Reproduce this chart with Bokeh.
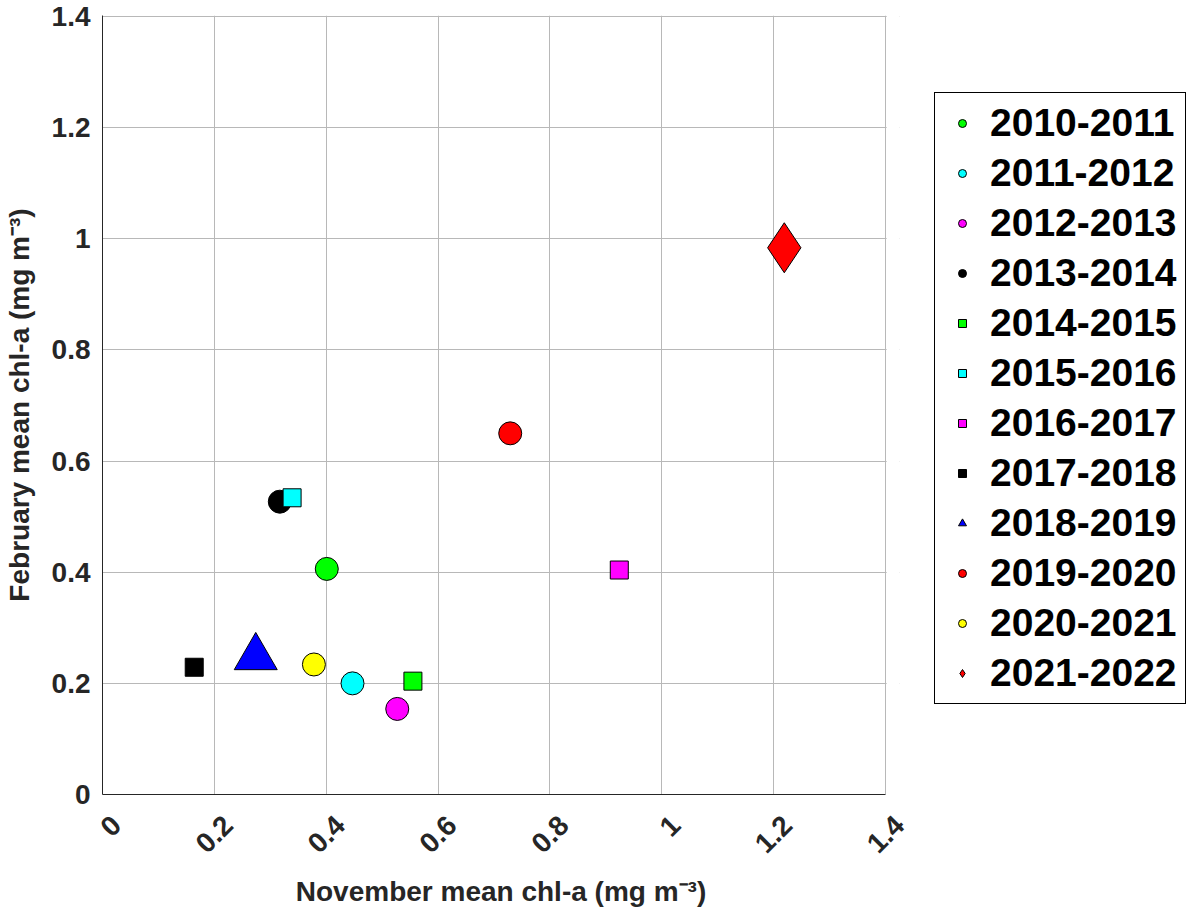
from math import pi
from bokeh.plotting import figure
from bokeh.layouts import row
from bokeh.models import (Range1d, FixedTicker, Legend, LegendItem, LinearAxis,
                          BoxAnnotation)
from bokeh.embed import file_html
from bokeh.resources import INLINE

# ---------------- data ----------------
seasons = ["2010-2011", "2011-2012", "2012-2013", "2013-2014", "2014-2015", "2015-2016",
           "2016-2017", "2017-2018", "2018-2019", "2019-2020", "2020-2021", "2021-2022"]
nov_chla = [0.401, 0.447, 0.527, 0.317, 0.555, 0.339, 0.924, 0.164, 0.274, 0.729, 0.378, 1.219]
feb_chla = [0.406, 0.200, 0.154, 0.527, 0.204, 0.534, 0.404, 0.229, 0.247, 0.650, 0.234, 0.984]

xticks = [0, 0.2, 0.4, 0.6, 0.8, 1, 1.2, 1.4]
xtick_labels = ["0", "0.2", "0.4", "0.6", "0.8", "1", "1.2", "1.4"]
yticks = [0, 0.2, 0.4, 0.6, 0.8, 1, 1.2, 1.4]
ytick_labels = ["0", "0.2", "0.4", "0.6", "0.8", "1", "1.2", "1.4"]

# ---------------- styles ----------------
markers = ["circle", "circle", "circle", "circle", "square", "square", "square", "square",
           "triangle", "circle", "circle", "diamond"]
fills = ["#00ff00", "#00ffff", "#ff00ff", "#000000", "#00ff00", "#00ffff", "#ff00ff", "#000000",
         "#0000ff", "#ff0000", "#ffff00", "#ff0000"]
sizes = [23, 23, 23, 23, 18, 18, 18, 18, 43, 23, 23, 50]

FONT = "Liberation Sans"
TXT = "#262626"
GRID = "#b8b8b8"

XMAX = xticks[-1]
YMAX = yticks[-1]
PAD_R = 0.025     # extra room at the right of the frame for the rotated labels
SHIFT = 0.0246    # shifts rotated x tick labels so they are centred on their ticks

p = figure(width=912, height=912,
           x_range=Range1d(0, XMAX + PAD_R), y_range=Range1d(0, YMAX + 0.002),
           output_backend="svg", toolbar_location=None,
           min_border_left=101, min_border_right=13, min_border_top=15, min_border_bottom=118)
p.outline_line_color = None
p.background_fill_color = "white"
p.border_fill_color = "white"

# grid
p.xgrid.ticker = FixedTicker(ticks=xticks)
p.ygrid.ticker = FixedTicker(ticks=yticks)
p.grid.grid_line_color = GRID
p.grid.grid_line_width = 1

# main x axis: just the line from 0 to 1.4
main_x = p.xaxis[0]
main_x.ticker = FixedTicker(ticks=[])
main_x.bounds = (0, XMAX)
main_x.axis_line_color = TXT
main_x.major_tick_in = 0
main_x.major_tick_out = 0
main_x.minor_tick_line_color = None
main_x.major_label_standoff = 0

# label axis (rotated tick labels + axis title)
p.extra_x_ranges = {"lbl": Range1d(-SHIFT, XMAX + PAD_R - SHIFT)}
lbl_x = LinearAxis(x_range_name="lbl", ticker=FixedTicker(ticks=xticks),
                   major_label_overrides={t: l for t, l in zip(xticks, xtick_labels)},
                   major_label_orientation=pi / 4,
                   axis_line_color=None, major_tick_line_color=None,
                   minor_tick_line_color=None, major_tick_in=0, major_tick_out=0,
                   major_label_standoff=26,
                   major_label_text_font=FONT, major_label_text_font_size="28px",
                   major_label_text_font_style="bold", major_label_text_color=TXT,
                   axis_label="November mean chl-a (mg m\u207b\u00b3)",
                   axis_label_text_font=FONT, axis_label_text_font_size="28px",
                   axis_label_text_font_style="bold", axis_label_text_color=TXT,
                   axis_label_standoff=12)
p.add_layout(lbl_x, "below")

# hide the part of the horizontal grid lines right of x = 1.4
p.add_layout(BoxAnnotation(left=XMAX + 0.002, fill_color="white", fill_alpha=1,
                           line_color=None))

# y axis
p.yaxis.ticker = FixedTicker(ticks=yticks)
p.yaxis.major_label_overrides = {t: l for t, l in zip(yticks, ytick_labels)}
p.yaxis.axis_line_color = TXT
p.yaxis.major_tick_in = 0
p.yaxis.major_tick_out = 0
p.yaxis.minor_tick_line_color = None
p.yaxis.major_label_standoff = 12
p.yaxis.major_label_text_font = FONT
p.yaxis.major_label_text_font_size = "28px"
p.yaxis.major_label_text_font_style = "bold"
p.yaxis.major_label_text_color = TXT
p.yaxis.axis_label = "February mean chl-a (mg m\u207b\u00b3)"
p.yaxis.axis_label_text_font = FONT
p.yaxis.axis_label_text_font_size = "28px"
p.yaxis.axis_label_text_font_style = "bold"
p.yaxis.axis_label_text_color = TXT
p.yaxis.axis_label_standoff = 14

for i in range(len(seasons)):
    p.scatter(x=[nov_chla[i]], y=[feb_chla[i]], marker=markers[i], size=sizes[i],
              fill_color=fills[i], line_color="black", line_width=1)

# ---------------- legend panel ----------------
lf = figure(width=274, height=912, x_range=Range1d(-2, -1), y_range=Range1d(-2, -1),
            x_axis_type=None, y_axis_type=None, output_backend="svg",
            toolbar_location=None, min_border=0)
lf.outline_line_color = None
lf.background_fill_color = "white"
lf.border_fill_color = "white"

proxies = []
for i in range(len(seasons)):
    r = lf.scatter(x=[nov_chla[i]], y=[feb_chla[i]], marker=markers[i], size=sizes[i],
                   fill_color=fills[i], line_color="black", line_width=1)
    proxies.append(r)

items = [LegendItem(label=s, renderers=[r]) for s, r in zip(seasons, proxies)]
legend = Legend(items=items, location=(22, 90), orientation="vertical",
                label_text_font=FONT, label_text_font_size="39px", label_text_font_style="bold",
                label_text_color="black", border_line_color="black", border_line_width=1,
                border_line_alpha=1, background_fill_color="white", background_fill_alpha=1,
                padding=8, spacing=6, glyph_width=38, glyph_height=20, label_standoff=9,
                margin=0)
lf.add_layout(legend)

layout = row(p, lf)
open("out.html", "w").write(file_html(layout, INLINE))
